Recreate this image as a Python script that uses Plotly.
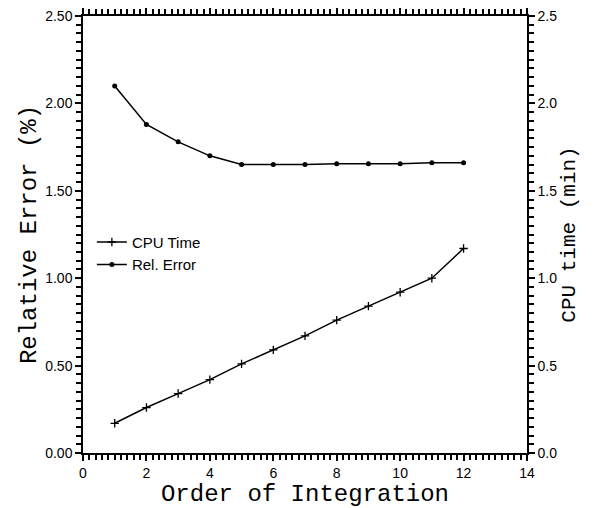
import plotly.graph_objects as go

order = [1, 2, 3, 4, 5, 6, 7, 8, 9, 10, 11, 12]
cpu_time = [0.17, 0.26, 0.34, 0.42, 0.51, 0.59, 0.67, 0.76, 0.84, 0.92, 1.00, 1.17]
rel_error = [2.10, 1.88, 1.78, 1.70, 1.65, 1.65, 1.65, 1.655, 1.655, 1.655, 1.66, 1.66]

x_range = [0, 14]
x_step = 2
y_range = [0, 2.5]
y_step = 0.5

title_font = dict(family="Liberation Mono", size=24, color="black")
tick_font = dict(family="Liberation Sans", size=14, color="black")

fig = go.Figure()
fig.add_trace(go.Scatter(
    x=order, y=cpu_time, name="CPU Time", mode="lines+markers",
    line=dict(color="black", width=1.5),
    marker=dict(symbol="cross-thin-open", size=6, color="black", line=dict(width=1.3, color="black")),
    yaxis="y2"))
fig.add_trace(go.Scatter(
    x=order, y=rel_error, name="Rel. Error", mode="lines+markers",
    line=dict(color="black", width=1.5),
    marker=dict(symbol="circle", size=5, color="black")))

common = dict(showline=True, linecolor="black", linewidth=1.5,
              showgrid=True, gridcolor="rgba(255,255,255,0)",
              zeroline=True, zerolinecolor="black", zerolinewidth=1.5,
              tickwidth=1.5, tickcolor="#000000")
minor_x = dict(dtick=0.2, ticklen=5, tickwidth=1.5, tickcolor="#000000",
               showgrid=True, gridcolor="rgba(255,255,255,0)")
minor_y = dict(dtick=0.05, ticklen=5, tickwidth=1.5, tickcolor="#000000",
               showgrid=True, gridcolor="rgba(255,255,255,0)")

fig.update_layout(
    template="none",
    width=594, height=508,
    margin=dict(l=83, r=67, t=16, b=55),
    paper_bgcolor="white", plot_bgcolor="white",
    showlegend=True,
    legend=dict(x=0.02, y=0.52, xanchor="left", yanchor="top",
                bgcolor="rgba(0,0,0,0)", font=dict(family="Liberation Sans", size=15, color="black"),
                tracegroupgap=0),
    xaxis=dict(range=x_range, tickmode="linear", tick0=0, dtick=x_step,
               ticks="outside", ticklen=6, tickfont=tick_font, mirror="ticks",
               minor=dict(ticks="outside", **minor_x),
               title=dict(text="Order of Integration", font=dict(family="Liberation Mono", size=24, color="black"), standoff=6),
               **common),
    yaxis=dict(range=y_range, tickmode="linear", tick0=0, dtick=y_step, tickformat=".2f",
               ticks="outside", ticklen=6, tickfont=tick_font,
               minor=dict(ticks="outside", **minor_y),
               title=dict(text="Relative Error (%)", font=title_font, standoff=2),
               **common),
    yaxis2=dict(range=y_range, overlaying="y", side="right", anchor="x",
                tickmode="linear", tick0=0, dtick=y_step, tickformat=".1f",
                ticks="outside", ticklen=6, tickfont=tick_font,
                minor=dict(ticks="outside", **minor_y),
                title=dict(text="CPU time (min)", font=dict(family="Liberation Mono", size=21, color="black"), standoff=4),
                **common),
)

fig.write_html("out.html")
